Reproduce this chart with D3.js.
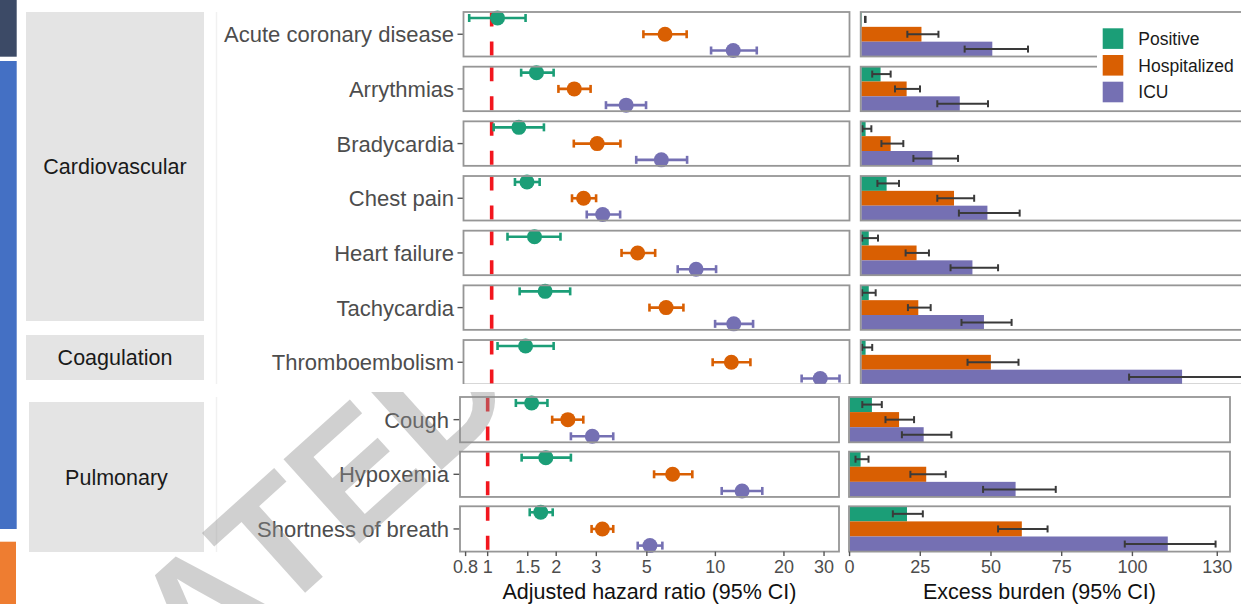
<!DOCTYPE html>
<html><head><meta charset="utf-8">
<script src="https://cdn.jsdelivr.net/npm/d3@7"></script>
<style>
html,body{margin:0;padding:0;background:#fff;}
svg{display:block;font-family:"Liberation Sans",Arial,Helvetica,sans-serif;}
</style></head><body>
<svg id="chart" width="1241" height="604"></svg>
<script>
// ---------------- DATA ----------------
const conditions = ["Acute coronary disease","Arrythmias","Bradycardia","Chest pain","Heart failure","Tachycardia","Thromboembolism","Cough","Hypoxemia","Shortness of breath"];
const conditionGroups = ["Cardiovascular","Cardiovascular","Cardiovascular","Cardiovascular","Cardiovascular","Cardiovascular","Coagulation","Pulmonary","Pulmonary","Pulmonary"];
const groupNames = ["Cardiovascular","Coagulation","Pulmonary"];
const series = ["Positive","Hospitalized","ICU"];
const seriesColors = ["#1b9e77","#d95f02","#7570b3"];

// Adjusted hazard ratio (95% CI)
const hrPositive     = [1.06, 1.56, 1.31, 1.42, 1.53, 1.70, 1.40, 1.56, 1.80, 1.71];
const hrPositiveLow  = [0.80, 1.34, 1.02, 1.26, 1.17, 1.32, 1.06, 1.33, 1.41, 1.53];
const hrPositiveHigh = [1.40, 1.85, 1.68, 1.61, 1.98, 2.18, 1.85, 1.83, 2.32, 1.93];
const hrHosp         = [5.59, 2.27, 2.85, 2.49, 4.26, 5.65, 10.8, 2.25, 6.49, 3.19];
const hrHospLow      = [4.51, 1.94, 2.26, 2.22, 3.63, 4.79, 8.97, 1.92, 5.38, 2.86];
const hrHospHigh     = [6.93, 2.67, 3.59, 2.82, 5.07, 6.71, 13.05, 2.63, 7.92, 3.56];
const hrICU          = [11.0, 3.80, 5.39, 3.01, 7.61, 11.06, 26.1, 2.88, 13.1, 5.16];
const hrICULow       = [8.83, 3.11, 4.20, 2.57, 6.34, 9.19, 21.7, 2.32, 10.66, 4.56];
const hrICUHigh      = [13.9, 4.63, 6.96, 3.58, 9.28, 13.4, 31.6, 3.56, 16.07, 5.85];

// Excess burden (95% CI)
const burdenPositive     = [0.2, 6.7, 1.5, 8.8, 2.6, 2.6, 1.5, 7.9, 3.9, 20.3];
const burdenPositiveLow  = [1.3, 3.8, 0.4, 5.6, 0.3, 0.3, 0.3, 4.5, 2.1, 15.3];
const burdenPositiveHigh = [1.5, 10.2, 3.5, 13.1, 5.8, 5.0, 3.8, 11.4, 6.7, 25.9];
const burdenHosp         = [20.9, 15.75, 10.2, 32.2, 19.2, 19.8, 45.0, 17.5, 27.1, 60.9];
const burdenHospLow      = [16.0, 11.7, 7.0, 26.4, 15.4, 16.2, 36.9, 12.7, 21.5, 52.5];
const burdenHospHigh     = [26.8, 20.4, 14.6, 39.2, 23.5, 24.1, 54.6, 22.8, 34.0, 70.0];
const burdenICU          = [45.5, 34.2, 24.7, 43.8, 38.6, 42.6, 111.4, 26.2, 58.7, 112.5];
const burdenICULow       = [35.9, 26.4, 18.1, 33.9, 31.0, 34.8, 93.0, 18.5, 47.2, 97.3];
const burdenICUHigh      = [57.9, 44.0, 33.6, 55.0, 47.5, 52.2, 140.0, 36.0, 72.9, 129.4];

const hrTicks = [0.8, 1, 1.5, 2, 3, 5, 10, 20, 30];
const hrTickLabels = ["0.8", "1", "1.5", "2", "3", "5", "10", "20", "30"];
const burdenTicks = [0, 25, 50, 75, 100, 130];
const burdenTickLabels = ["0", "25", "50", "75", "100", "130"];
const hrTitle = "Adjusted hazard ratio (95% CI)";
const burdenTitle = "Excess burden (95% CI)";
const watermarkText = "ATED";

// ---------------- build tables ----------------
const hrVals = [hrPositive, hrHosp, hrICU];
const hrLows = [hrPositiveLow, hrHospLow, hrICULow];
const hrHighs = [hrPositiveHigh, hrHospHigh, hrICUHigh];
const bVals = [burdenPositive, burdenHosp, burdenICU];
const bLows = [burdenPositiveLow, burdenHospLow, burdenICULow];
const bHighs = [burdenPositiveHigh, burdenHospHigh, burdenICUHigh];

const svg = d3.select("#chart");
svg.append("rect").attr("width",1241).attr("height",604).attr("fill","#fff");

// page decorations (left colour strips)
svg.append("rect").attr("x",0).attr("y",0).attr("width",16.7).attr("height",56.7).attr("fill","#3c4a66");
svg.append("rect").attr("x",0).attr("y",61).attr("width",16.7).attr("height",468).attr("fill","#4470c4");
svg.append("rect").attr("x",0).attr("y",541.7).attr("width",16).attr("height",63).attr("fill","#ee7d31");

const defs = svg.append("defs");
defs.append("clipPath").attr("id","clipTop").append("rect").attr("x",0).attr("y",0).attr("width",1241).attr("height",384);
defs.append("clipPath").attr("id","clipBottom").append("rect").attr("x",0).attr("y",392).attr("width",1241).attr("height",212);

const sections = [
  { rows: [0,1,2,3,4,5,6], clip: "clipTop", fx0: 463.5, fx1: 849.5, bx0: 860.7, bx1: 1248.6,
    top0: 12, step: 54.67, h: 44.5, labelX: 454, tickX0: 457.5, axis: false,
    strips: [{g: 0, x0: 26, x1: 204, y0: 12, y1: 321}, {g: 1, x0: 26, x1: 204, y0: 335, y1: 380}],
    vline: {x: 216.5, y0: 12, y1: 384} },
  { rows: [7,8,9], clip: "clipBottom", fx0: 460, fx1: 839, bx0: 849, bx1: 1230,
    top0: 397, step: 54.65, h: 45.3, labelX: 449, tickX0: 453.5, axis: true,
    strips: [{g: 2, x0: 29, x1: 204, y0: 402, y1: 552}],
    vline: {x: 216.5, y0: 397, y1: 552} }
];

const borderColor = "#969696";
const textGray = "#4d4d4d";

sections.forEach(sec => {
  const g = svg.append("g").attr("clip-path", `url(#${sec.clip})`);
  const fx = d3.scaleLog().domain([0.756, 34.9]).range([sec.fx0, sec.fx1]);
  const bx = d3.scaleLinear().domain([-0.2, 134.5]).range([sec.bx0, sec.bx1]);

  // faint separator
  g.append("line").attr("x1",sec.vline.x).attr("x2",sec.vline.x).attr("y1",sec.vline.y0).attr("y2",sec.vline.y1)
    .attr("stroke","#f1f1f1").attr("stroke-width",1.5);

  // strips
  sec.strips.forEach(s => {
    g.append("rect").attr("x",s.x0).attr("y",s.y0).attr("width",s.x1-s.x0).attr("height",s.y1-s.y0).attr("fill","#e4e4e4");
    g.append("text").attr("x",(s.x0+s.x1)/2).attr("y",(s.y0+s.y1)/2).attr("dy","0.36em")
      .attr("text-anchor","middle").attr("font-size",21.5).attr("fill","#1a1a1a").text(groupNames[s.g]);
  });

  sec.rows.forEach((r, i) => {
    const top = sec.top0 + i*sec.step, bot = top + sec.h, mid = (top+bot)/2;
    const py = d3.scalePoint().domain(series).range([top+6, bot-6]);
    const by = d3.scaleBand().domain(series).range([top, bot]).padding(0);

    // row label + tick
    g.append("text").attr("x",sec.labelX).attr("y",mid).attr("dy","0.36em").attr("text-anchor","end")
      .attr("font-size",22).attr("fill",textGray).text(conditions[r]);
    g.append("line").attr("x1",sec.tickX0).attr("x2",sec.fx0).attr("y1",mid).attr("y2",mid)
      .attr("stroke","#555").attr("stroke-width",1.4);

    // ---- forest panel ----
    const fp = g.append("g");
    fp.append("rect").attr("x",sec.fx0).attr("y",top).attr("width",sec.fx1-sec.fx0).attr("height",sec.h).attr("fill","#fff");
    fp.append("line").attr("x1",fx(1)).attr("x2",fx(1)).attr("y1",top+0.5).attr("y2",bot)
      .attr("stroke","#f2161e").attr("stroke-width",3.6).attr("stroke-dasharray","14,15");
    series.forEach((s, k) => {
      const y = py(s), c = seriesColors[k];
      const lo = fx(hrLows[k][r]), hi = fx(hrHighs[k][r]);
      fp.append("line").attr("x1",lo).attr("x2",hi).attr("y1",y).attr("y2",y).attr("stroke",c).attr("stroke-width",2.6);
      [lo, hi].forEach(xx => fp.append("line").attr("x1",xx).attr("x2",xx).attr("y1",y-4).attr("y2",y+4).attr("stroke",c).attr("stroke-width",2.6));
      fp.append("circle").attr("cx",fx(hrVals[k][r])).attr("cy",y).attr("r",7.5).attr("fill",c);
    });
    fp.append("rect").attr("x",sec.fx0).attr("y",top).attr("width",sec.fx1-sec.fx0).attr("height",sec.h)
      .attr("fill","none").attr("stroke",borderColor).attr("stroke-width",1.8);

    // ---- bar panel ----
    const bp = g.append("g");
    series.forEach((s, k) => {
      bp.append("rect").attr("x",bx(0)).attr("y",by(s)).attr("width",Math.max(0,bx(bVals[k][r])-bx(0))).attr("height",by.bandwidth())
        .attr("fill",seriesColors[k]);
    });
    series.forEach((s, k) => {
      const y = by(s) + by.bandwidth()/2;
      const lo = bx(bLows[k][r]), hi = bx(bHighs[k][r]);
      bp.append("line").attr("x1",lo).attr("x2",hi).attr("y1",y).attr("y2",y).attr("stroke","#3a3a3a").attr("stroke-width",2);
      [lo, hi].forEach(xx => bp.append("line").attr("x1",xx).attr("x2",xx).attr("y1",y-3.5).attr("y2",y+3.5).attr("stroke","#3a3a3a").attr("stroke-width",2));
    });
    bp.append("rect").attr("x",sec.bx0).attr("y",top).attr("width",sec.bx1-sec.bx0).attr("height",sec.h)
      .attr("fill","none").attr("stroke",borderColor).attr("stroke-width",1.8);
  });

  if (sec.axis) {
    const axisY = sec.top0 + (sec.rows.length-1)*sec.step + sec.h;
    const ax = g.append("g");
    hrTicks.forEach((t, i) => {
      ax.append("line").attr("x1",fx(t)).attr("x2",fx(t)).attr("y1",axisY).attr("y2",axisY+4.5).attr("stroke","#555").attr("stroke-width",1.4);
      ax.append("text").attr("x",fx(t)).attr("y",573).attr("text-anchor","middle").attr("font-size",18).attr("fill",textGray).text(hrTickLabels[i]);
    });
    burdenTicks.forEach((t, i) => {
      ax.append("line").attr("x1",bx(t)).attr("x2",bx(t)).attr("y1",axisY).attr("y2",axisY+4.5).attr("stroke","#555").attr("stroke-width",1.4);
      ax.append("text").attr("x",bx(t)).attr("y",573).attr("text-anchor","middle").attr("font-size",18).attr("fill",textGray).text(burdenTickLabels[i]);
    });
    ax.append("text").attr("x",(sec.fx0+sec.fx1)/2).attr("y",599).attr("text-anchor","middle").attr("font-size",21.5).attr("fill","#111").text(hrTitle);
    ax.append("text").attr("x",(sec.bx0+sec.bx1)/2).attr("y",599).attr("text-anchor","middle").attr("font-size",21.5).attr("fill","#111").text(burdenTitle);
  }
});

// legend (inside top-right)
const lg = svg.append("g");
lg.append("rect").attr("x",1097).attr("y",14).attr("width",144).attr("height",94).attr("fill","#fff");
series.forEach((s, k) => {
  const y = 28.3 + k*26.7;
  lg.append("rect").attr("x",1102.7).attr("y",y).attr("width",20.6).attr("height",20.6).attr("fill",seriesColors[k]);
  lg.append("text").attr("x",1138.3).attr("y",y+10.3).attr("dy","0.36em").attr("font-size",17.5).attr("fill","#1a1a1a").text(s);
});

// watermark (belongs to the lower image, partially out of frame)
svg.append("g").attr("clip-path","url(#clipBottom)")
  .append("text").attr("transform","translate(197,690) rotate(-42)")
  .attr("font-size",165).attr("font-weight","bold").attr("fill","#8f8f8f").attr("fill-opacity",0.42).text(watermarkText);
</script>
</body></html>
